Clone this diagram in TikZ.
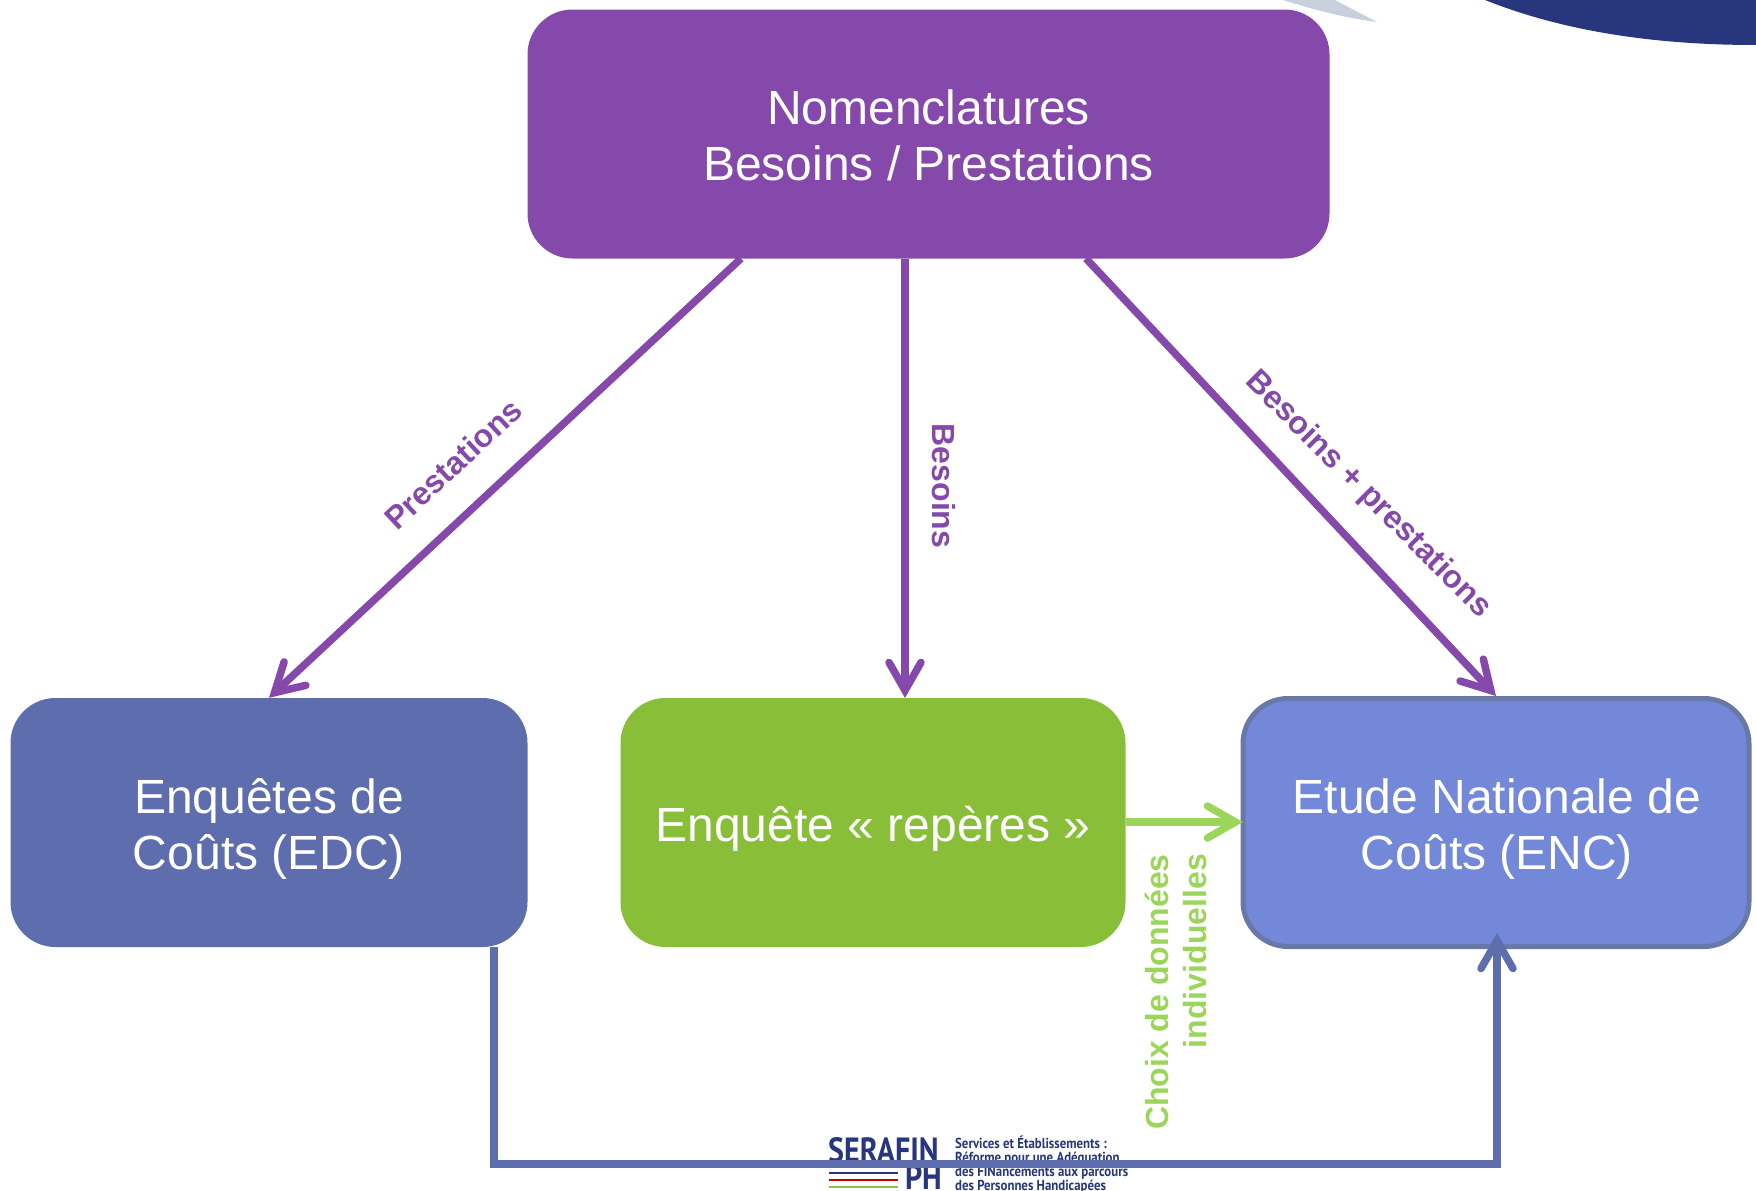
\documentclass[tikz,border=0pt]{standalone}
\usepackage{fontspec}
\setmainfont{Liberation Sans}
\newfontfamily\logofont{PT Sans}
\usetikzlibrary{arrows.meta,calc}
\definecolor{cpurple}{HTML}{8548AB}
\definecolor{cedc}{HTML}{5E6DAD}
\definecolor{cgreen}{HTML}{88BE38}
\definecolor{clight}{HTML}{9BD65A}
\definecolor{cenc}{HTML}{7388D9}
\definecolor{cencb}{HTML}{6A78A8}
\definecolor{cnavy}{HTML}{27367D}
\definecolor{cgrey}{HTML}{C8D1DB}
\tikzset{
  x=1pt,y=-1pt,
  boxn/.style={rectangle,rounded corners=45pt,inner sep=0pt},
  boxt/.style={text=white,align=center,inner sep=0pt,font=\fontsize{48}{56}\selectfont},
  lab/.style={font=\bfseries\fontsize{32}{38}\selectfont,inner sep=0pt},
  conn/.style={line width=7.5pt,-{Straight Barb[length=28pt,width=32pt,line cap=round,line width=7.5pt]}},
  logol/.style={font=\logofont\bfseries\fontsize{14.5}{14}\selectfont,text=cnavy,inner sep=0pt,align=left,xscale=.885,transform shape},
  logot/.style={font=\logofont\bfseries\fontsize{35}{35}\selectfont,text=cnavy,inner sep=0pt,xscale=.86,transform shape},
}
\begin{document}
\begin{tikzpicture}
\useasboundingbox (0,0) rectangle (1756,1191);
% corner decorations
\fill[cgrey] (1283,0) .. controls (1315,10) and (1345,18) .. (1377,22) -- (1335,0) -- cycle;
\fill[cnavy] (1485,0) .. controls (1560,30) and (1650,45) .. (1756,45) -- (1756,0) -- cycle;
% logo
\node[logot,anchor=west] (serafin) at (828,1150) {SERAFIN};
\node[logot,anchor=east] (ph) at (942,1177) {PH};
\node[logol,anchor=west] (slogan) at (955,1164.5) {Services et Établissements :\\Réforme pour une Adéquation\\des FINancements aux parcours\\des Personnes Handicapées};
\coordinate (l1a) at (829,1173); \coordinate (l1b) at (898,1173);
\coordinate (l2a) at (829,1180); \coordinate (l2b) at (898,1180);
\coordinate (l3a) at (829,1187); \coordinate (l3b) at (898,1187);
\draw[cnavy,line width=2pt] (l1a) -- (l1b);
\draw[red!80!black,line width=2.5pt] (l2a) -- (l2b);
\draw[clight!90!black,line width=2.5pt] (l3a) -- (l3b);
% boxes
\node[boxn,fill=cpurple,minimum width=802pt,minimum height=249pt] (top) at (928.5,134) {};
\node[boxn,fill=cedc,minimum width=517pt,minimum height=249pt] (edc) at (269,822.5) {};
\node[boxn,fill=cgreen,minimum width=505pt,minimum height=249pt] (rep) at (873,822.5) {};
\node[boxn,fill=cenc,draw=cencb,line width=5pt,minimum width=506pt,minimum height=248pt] (enc) at (1496,822.5) {};
\node[boxt] (topt) at ($(top.center)+(0,1.5)$) {Nomenclatures\\Besoins / Prestations};
\node[boxt] (edct) at ($(edc.center)+(0,6.5)$) {Enquêtes de\\Coûts (EDC)};
\node[boxt] (rept) at ($(rep.center)+(0,6.5)$) {Enquête « repères »};
\node[boxt] (enct) at ($(enc.center)+(1,6.5)$) {Etude Nationale de\\Coûts (ENC)};
% connectors
\coordinate (ps) at (741,258.5);
\coordinate (bs) at (905,258.5);
\coordinate (bp) at (1086,258.5);
\coordinate (bt) at (905,698);
\coordinate (ebot) at (494,947);
\coordinate (ecorner) at (494,1164);
\coordinate (ncorner) at (1497,1164);
\coordinate (ntip) at (1497,933);
\coordinate (gt) at (1243,822);
\draw[conn,cpurple] (ps) -- (edc.north);
\draw[conn,cpurple] (bs) -- (bt);
\draw[conn,cpurple] (bp) -- (enc.north);
\draw[conn,clight] (rep.east |- gt) -- (gt);
\draw[conn,cedc,line join=miter] (ebot) -- (ecorner) -- (ncorner) -- (ntip);
% labels
\node[lab,text=cpurple,rotate=43] (lp) at (453,464) {Prestations};
\node[lab,text=cpurple,rotate=-90] (lb) at (944,486) {Besoins};
\node[lab,text=cpurple,rotate=-45] (lbp) at (1368,495) {Besoins + prestations};
\node[lab,text=clight,rotate=90,align=right] (lc) at (1176,992) {Choix de données\\individuelles};
\end{tikzpicture}
\end{document}
